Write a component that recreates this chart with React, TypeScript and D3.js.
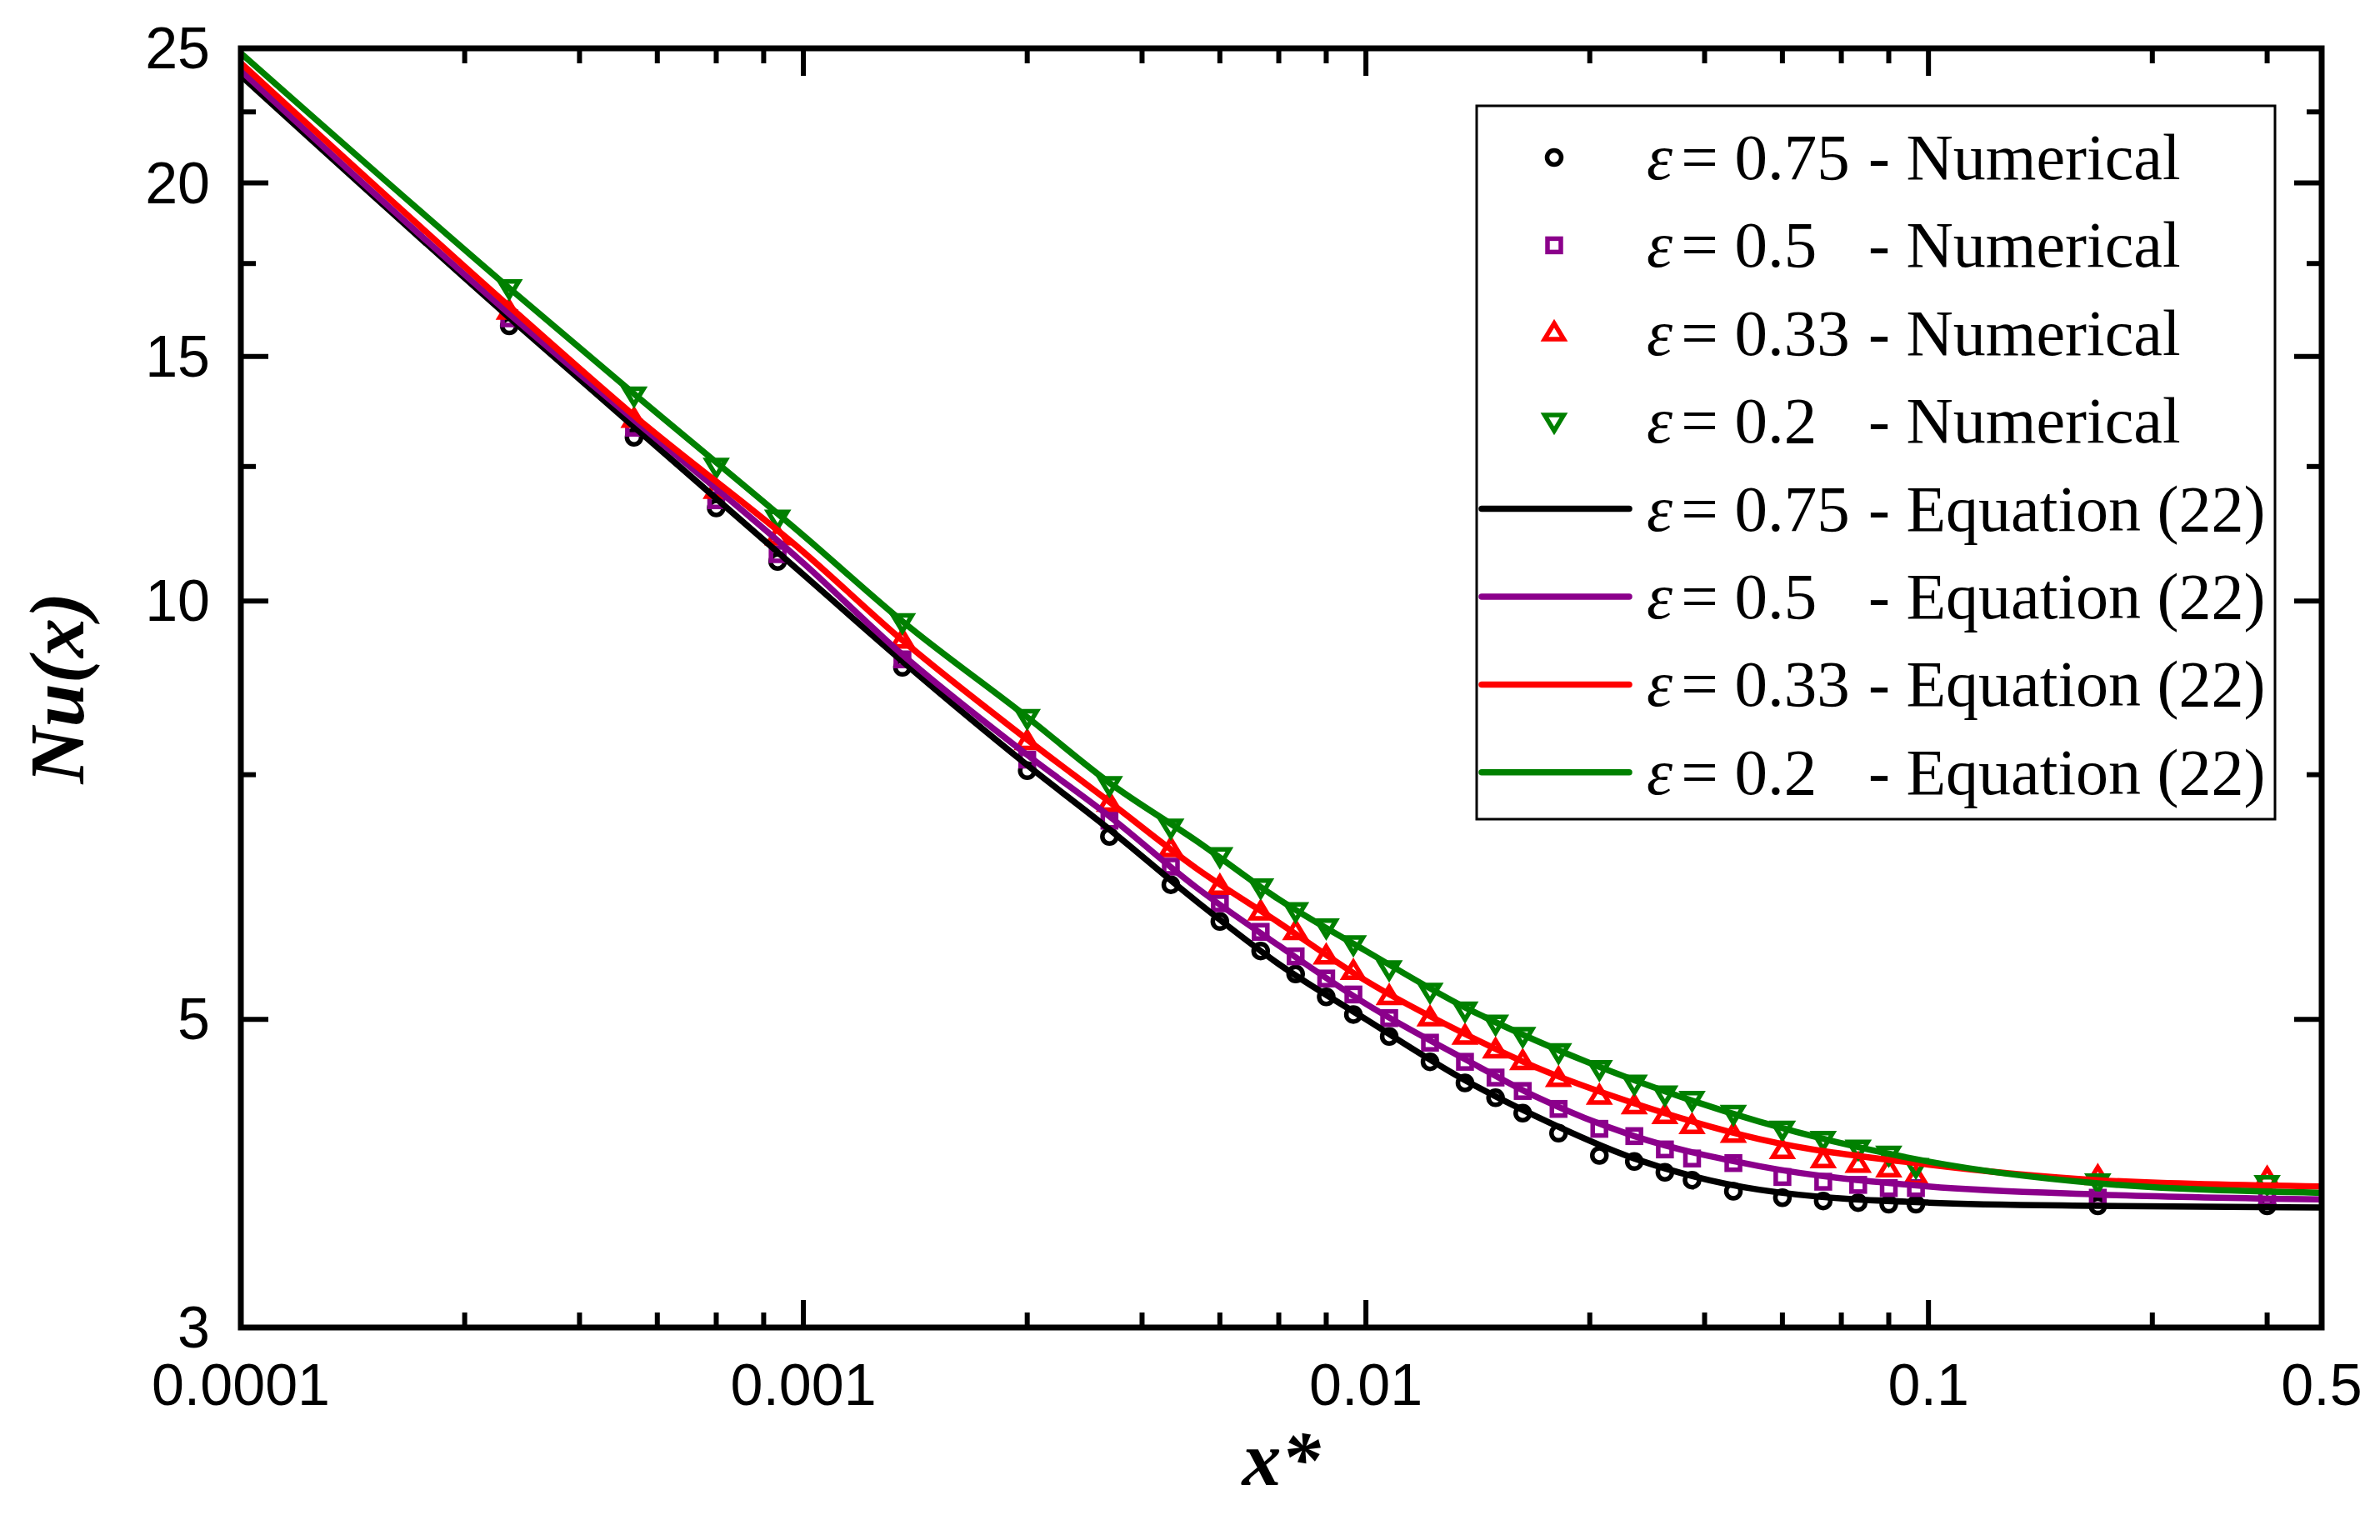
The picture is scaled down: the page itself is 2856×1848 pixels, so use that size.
import { useEffect } from 'react';
import * as d3 from 'd3';

// numerical points (x* positions shared by the four runs)
const xNum = [
  0.0003, 0.0005, 0.0007, 0.0009, 0.0015, 0.0025, 0.0035, 0.0045, 0.0055, 0.0065,
  0.0075, 0.0085, 0.0095, 0.011, 0.013, 0.015, 0.017, 0.019, 0.022, 0.026,
  0.03, 0.034, 0.038, 0.045, 0.055, 0.065, 0.075, 0.085, 0.095, 0.2, 0.4,
];
const num075 = [
  15.78, 13.12, 11.67, 10.68, 8.96, 7.55, 6.77, 6.25, 5.88, 5.6,
  5.39, 5.19, 5.04, 4.86, 4.66, 4.5, 4.39, 4.28, 4.14, 3.99,
  3.95, 3.88, 3.83, 3.76, 3.72, 3.7, 3.69, 3.68, 3.68, 3.67, 3.67,
];
const num05 = [
  15.98, 13.33, 11.82, 10.81, 9.08, 7.69, 6.95, 6.44, 6.06, 5.78,
  5.55, 5.35, 5.21, 5.01, 4.81, 4.66, 4.54, 4.44, 4.31, 4.17,
  4.12, 4.03, 3.97, 3.94, 3.85, 3.82, 3.8, 3.78, 3.78, 3.72, 3.72,
];
const num033 = [
  16.16, 13.51, 12.01, 11.12, 9.37, 7.92, 7.15, 6.63, 6.23, 5.97,
  5.78, 5.55, 5.41, 5.19, 5.01, 4.86, 4.75, 4.66, 4.53, 4.4,
  4.33, 4.26, 4.19, 4.13, 4.02, 3.96, 3.93, 3.9, 3.85, 3.85, 3.84,
];
const num02 = [
  16.82, 14.08, 12.51, 11.48, 9.67, 8.25, 7.38, 6.88, 6.56, 6.23,
  5.99, 5.83, 5.67, 5.44, 5.24, 5.08, 4.97, 4.87, 4.74, 4.61,
  4.5, 4.42, 4.38, 4.28, 4.17, 4.1, 4.04, 4.0, 3.92, 3.82, 3.81,
];

// Equation (22) curves, read at these x*
const xEq = [
  0.0001, 0.0003, 0.0005, 0.001, 0.0015, 0.0025, 0.0035, 0.005, 0.007, 0.01,
  0.015, 0.02, 0.03, 0.05, 0.1, 0.2, 0.5,
];
const eq075 = [23.9, 16.0, 13.35, 10.45, 9.05, 7.62, 6.85, 6.08, 5.48, 5.0, 4.52, 4.26, 3.97, 3.77, 3.69, 3.67, 3.66];
const eq05 = [24.1, 16.1, 13.5, 10.65, 9.15, 7.75, 7.0, 6.22, 5.65, 5.13, 4.68, 4.4, 4.12, 3.92, 3.79, 3.74, 3.71];
const eq033 = [24.4, 16.3, 13.6, 10.85, 9.37, 7.95, 7.17, 6.42, 5.87, 5.33, 4.88, 4.62, 4.35, 4.1, 3.93, 3.83, 3.79];
const eq02 = [24.8, 16.8, 14.1, 11.15, 9.67, 8.25, 7.4, 6.72, 6.1, 5.6, 5.1, 4.83, 4.52, 4.22, 3.95, 3.81, 3.75];

const epsLabels = ['0.75', '0.5', '0.33', '0.2'];
const colors = ['#000000', '#8b008b', '#ff0000', '#008000'];
const shapes = ['circle', 'square', 'up', 'down'];

const xTicks = [0.0001, 0.001, 0.01, 0.1, 0.5];
const xTickLabels = ['0.0001', '0.001', '0.01', '0.1', '0.5'];
const xMinorSteps = [2.5, 4, 5.5, 7, 8.5];
const yTicks = [3, 5, 10, 15, 20, 25];
const yMinor = [7.5, 12.5, 17.5, 22.5];

const W = 2856;
const H = 1848;
const plot = { left: 289, right: 2786, top: 58, bottom: 1593 };

const x = d3.scaleLog().domain([0.0001, 0.5]).range([plot.left, plot.right]);
const y = d3.scaleLog().domain([3, 25]).range([plot.bottom, plot.top]);

const xMinor = [0.0001, 0.001, 0.01, 0.1]
  .flatMap((d) => xMinorSteps.map((s) => d * s))
  .filter((v) => v < 0.5);

function Marker({ shape, cx, cy, color }: { shape: string; cx: number; cy: number; color: string }) {
  const sw = 5.5;
  if (shape === 'circle')
    return <circle cx={cx} cy={cy} r={8.5} fill="none" stroke={color} strokeWidth={sw} />;
  if (shape === 'square')
    return <rect x={cx - 8} y={cy - 8} width={16} height={16} fill="none" stroke={color} strokeWidth={sw} />;
  const h = 19;
  const s = 11.5;
  const pts =
    shape === 'up'
      ? `${cx},${cy - h * 0.62} ${cx + s},${cy + h * 0.38} ${cx - s},${cy + h * 0.38}`
      : `${cx},${cy + h * 0.62} ${cx + s},${cy - h * 0.38} ${cx - s},${cy - h * 0.38}`;
  return <polygon points={pts} fill="none" stroke={color} strokeWidth={sw} strokeLinejoin="miter" />;
}

export default function App() {
  useEffect(() => {
    document.body.style.margin = '0';
  }, []);

  const numSeries = [num075, num05, num033, num02];
  const eqSeries = [eq075, eq05, eq033, eq02];

  const line = d3
    .line<[number, number]>()
    .x((d) => x(d[0]))
    .y((d) => y(d[1]))
    .curve(d3.curveMonotoneX);

  const sans = "'Liberation Sans', Arial, sans-serif";
  const serif = "'Liberation Serif', 'Times New Roman', serif";

  const legend = { left: 1772, top: 127, right: 2730, bottom: 983 };
  const rowY = (i: number) => 189 + i * 105.4;

  return (
    <svg width={W} height={H} viewBox={`0 0 ${W} ${H}`} style={{ display: 'block', background: '#fff' }}>
      <defs>
        <clipPath id="plotClip">
          <rect x={plot.left} y={plot.top} width={plot.right - plot.left} height={plot.bottom - plot.top} />
        </clipPath>
      </defs>

      {/* markers */}
      <g clipPath="url(#plotClip)">
        {numSeries.map((vals, si) =>
          vals.map((v, i) => (
            <Marker key={`${si}-${i}`} shape={shapes[si]} cx={x(xNum[i])} cy={y(v)} color={colors[si]} />
          )),
        )}
      </g>

      {/* equation curves */}
      <g clipPath="url(#plotClip)">
        {eqSeries.map((vals, si) => (
          <path
            key={si}
            d={line(vals.map((v, i) => [xEq[i], v] as [number, number])) ?? ''}
            fill="none"
            stroke={colors[si]}
            strokeWidth={7.5}
            strokeLinejoin="round"
          />
        ))}
      </g>

      {/* ticks */}
      <g stroke="#000" strokeWidth={6}>
        {xTicks.slice(1, -1).map((t) => (
          <g key={`xt${t}`}>
            <line x1={x(t)} x2={x(t)} y1={plot.bottom} y2={plot.bottom - 33} />
            <line x1={x(t)} x2={x(t)} y1={plot.top} y2={plot.top + 33} />
          </g>
        ))}
        {xMinor.map((t) => (
          <g key={`xm${t}`}>
            <line x1={x(t)} x2={x(t)} y1={plot.bottom} y2={plot.bottom - 18} />
            <line x1={x(t)} x2={x(t)} y1={plot.top} y2={plot.top + 18} />
          </g>
        ))}
        {yTicks.slice(1, -1).map((t) => (
          <g key={`yt${t}`}>
            <line x1={plot.left} x2={plot.left + 33} y1={y(t)} y2={y(t)} />
            <line x1={plot.right} x2={plot.right - 33} y1={y(t)} y2={y(t)} />
          </g>
        ))}
        {yMinor.map((t) => (
          <g key={`ym${t}`}>
            <line x1={plot.left} x2={plot.left + 18} y1={y(t)} y2={y(t)} />
            <line x1={plot.right} x2={plot.right - 18} y1={y(t)} y2={y(t)} />
          </g>
        ))}
      </g>

      {/* frame */}
      <rect
        x={plot.left}
        y={plot.top}
        width={plot.right - plot.left}
        height={plot.bottom - plot.top}
        fill="none"
        stroke="#000"
        strokeWidth={7}
      />

      {/* tick labels */}
      <g fontFamily={sans} fontSize={70} fill="#000">
        {xTicks.map((t, i) => (
          <text key={`xl${t}`} x={x(t)} y={1686} textAnchor="middle">
            {xTickLabels[i]}
          </text>
        ))}
        {yTicks.map((t) => (
          <text key={`yl${t}`} x={252} y={y(t) + 24} textAnchor="end">
            {t}
          </text>
        ))}
      </g>

      {/* axis titles */}
      <text
        x={(plot.left + plot.right) / 2}
        y={1782}
        textAnchor="middle"
        fontFamily={serif}
        fontSize={94}
        fontWeight="bold"
        fontStyle="italic"
      >
        x*
      </text>
      <text
        transform={`translate(100,${(plot.top + plot.bottom) / 2}) rotate(-90)`}
        textAnchor="middle"
        fontFamily={serif}
        fontSize={94}
        fontWeight="bold"
        fontStyle="italic"
      >
        Nu(x)
      </text>

      {/* legend */}
      <rect
        x={legend.left}
        y={legend.top}
        width={legend.right - legend.left}
        height={legend.bottom - legend.top}
        fill="#fff"
        stroke="#000"
        strokeWidth={3}
      />
      {epsLabels.map((e, i) => (
        <g key={`ln${i}`}>
          <Marker shape={shapes[i]} cx={1865} cy={rowY(i)} color={colors[i]} />
          <text x={1976} y={rowY(i) + 26} fontFamily={serif} fontSize={79}>
            <tspan fontStyle="italic">ε</tspan>
            <tspan dx={10}>= {e}</tspan>
          </text>
          <text x={2242} y={rowY(i) + 26} fontFamily={serif} fontSize={78}>
            - Numerical
          </text>
        </g>
      ))}
      {epsLabels.map((e, i) => (
        <g key={`le${i}`}>
          <line
            x1={1778}
            x2={1955}
            y1={rowY(i + 4)}
            y2={rowY(i + 4)}
            stroke={colors[i]}
            strokeWidth={7.5}
            strokeLinecap="round"
          />
          <text x={1976} y={rowY(i + 4) + 26} fontFamily={serif} fontSize={79}>
            <tspan fontStyle="italic">ε</tspan>
            <tspan dx={10}>= {e}</tspan>
          </text>
          <text x={2242} y={rowY(i + 4) + 26} fontFamily={serif} fontSize={78}>
            - Equation (22)
          </text>
        </g>
      ))}
    </svg>
  );
}
